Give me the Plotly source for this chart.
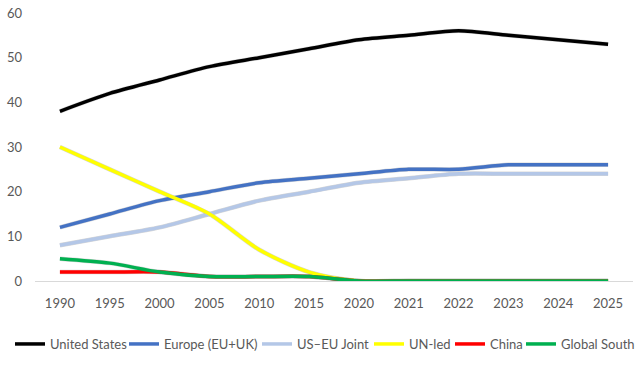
import plotly.graph_objects as go

years = ["1990", "1995", "2000", "2005", "2010", "2015", "2020", "2021", "2022", "2023", "2024", "2025"]
united_states = [38, 42, 45, 48, 50, 52, 54, 55, 56, 55, 54, 53]
europe = [12, 15, 18, 20, 22, 23, 24, 25, 25, 26, 26, 26]
us_eu_joint = [8, 10, 12, 15, 18, 20, 22, 23, 24, 24, 24, 24]
un_led = [30, 25, 20, 15, 7, 2, 0, 0, 0, 0, 0, 0]
china = [2, 2, 2, 1, 1, 1, 0, 0, 0, 0, 0, 0]
global_south = [5, 4, 2, 1, 1, 1, 0, 0, 0, 0, 0, 0]

series = [
    ("United States", united_states, "#000000"),
    ("Europe (EU+UK)", europe, "#4472C4"),
    ("US–EU Joint", us_eu_joint, "#B4C7E7"),
    ("UN-led", un_led, "#FFFF00"),
    ("China", china, "#FF0000"),
    ("Global South", global_south, "#00B050"),
]
# left edge (px) of each legend entry box
legend_box_x = [10, 124, 257, 369, 450, 521]

W, H = 644, 373
font_fam = "Lato, Liberation Sans, sans-serif"

fig = go.Figure()

# soft drop shadows on the base axes (drawn underneath)
for name, vals, col in series:
    fig.add_trace(go.Scatter(
        x=years, y=vals, mode="lines", name=name, showlegend=False,
        hoverinfo="skip",
        line=dict(color="rgba(0,0,0,0.16)", width=4.5, shape="spline", smoothing=0.8),
        xaxis="x", yaxis="y",
    ))

legends = {}
for i, (name, vals, col) in enumerate(series):
    lname = "legend" if i == 0 else f"legend{i+1}"
    fig.add_trace(go.Scatter(
        x=years, y=vals, mode="lines", name=name, legend=lname,
        line=dict(color=col, width=3.5, shape="spline", smoothing=0.8),
        xaxis="x2", yaxis="y2",
    ))
    legends[lname] = dict(
        xref="container", yref="container",
        x=legend_box_x[i] / W, xanchor="left",
        y=1 - 344 / H, yanchor="middle",
        orientation="h", borderwidth=0, bgcolor="rgba(0,0,0,0)",
        font=dict(family=font_fam, size=13, color="#595959"),
    )

ml, mr, mt, mb = 33, 11, 11, 92
ph = H - mt - mb
pw = W - ml - mr
dy = 2 / ph
dx = 2 / pw

fig.update_layout(
    width=W, height=H,
    margin=dict(l=ml, r=mr, t=mt, b=mb, autoexpand=False),
    paper_bgcolor="white", plot_bgcolor="white",
    font=dict(family=font_fam, size=13, color="#595959"),
    showlegend=True,
    # shadow axes (offset right/down by ~2px)
    xaxis=dict(
        type="category", range=[-0.5, 11.5], domain=[dx, 1],
        visible=False, anchor="y",
    ),
    yaxis=dict(
        range=[0, 60], domain=[0, 1 - dy], visible=False, anchor="x",
    ),
    # main visible axes
    xaxis2=dict(
        type="category", range=[-0.5, 11.5], domain=[0, 1 - dx],
        overlaying="x", anchor="y2",
        showgrid=False, showline=True, linecolor="#D9D9D9", linewidth=1,
        ticks="", zeroline=False, ticklabelstandoff=10,
        tickfont=dict(family=font_fam, size=13, color="#595959"),
    ),
    yaxis2=dict(
        range=[0, 60], dtick=10, domain=[dy, 1], overlaying="y", anchor="x2",
        showgrid=False, showline=False, zeroline=False, ticks="",
        ticklabelstandoff=12,
        tickfont=dict(family=font_fam, size=13, color="#595959"),
    ),
    **legends,
)

fig.write_html(
    "out.html",
    config={"displayModeBar": False},
    post_script="document.body.style.margin='0';document.body.style.padding='0';",
)
